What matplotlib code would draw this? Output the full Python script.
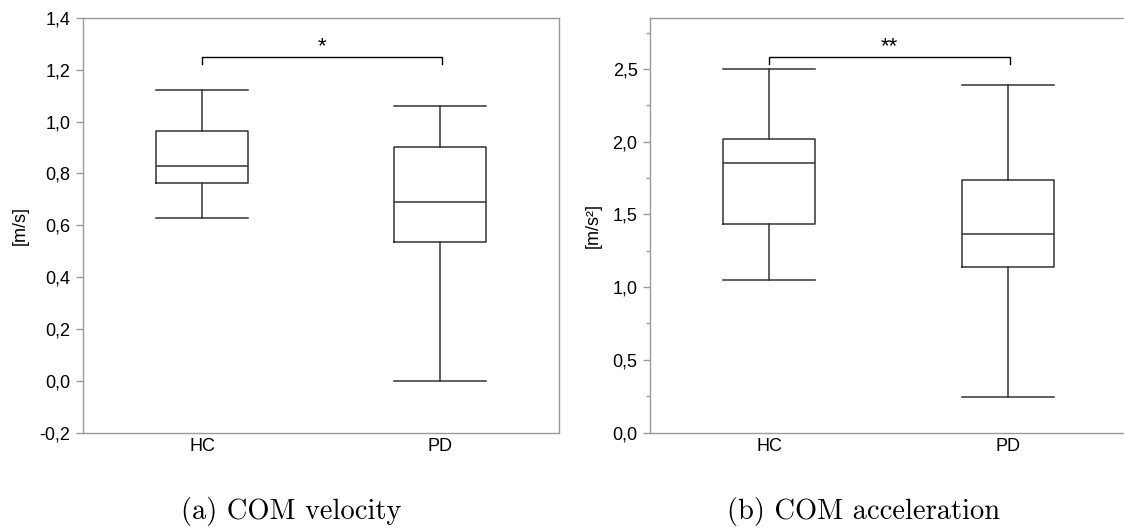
import matplotlib
matplotlib.use("Agg")
import matplotlib.pyplot as plt
from matplotlib.ticker import FuncFormatter, MultipleLocator

groups = ["HC", "PD"]

# COM velocity [m/s]: whislo, q1, med, q3, whishi
vel_whislo = [0.628, 0.0]
vel_q1 = [0.765, 0.534]
vel_med = [0.827, 0.690]
vel_q3 = [0.964, 0.903]
vel_whishi = [1.122, 1.060]

# COM acceleration [m/s^2]
acc_whislo = [1.051, 0.246]
acc_q1 = [1.432, 1.138]
acc_med = [1.855, 1.368]
acc_q3 = [2.016, 1.733]
acc_whishi = [2.500, 2.392]

vel_bracket = 1.25
acc_bracket = 2.583
vel_sig = "*"
acc_sig = "**"

plt.rcParams["font.family"] = ["Liberation Sans", "DejaVu Sans"]

spine_col = "#9a9a9a"
line_col = "#333333"


def comma(v, pos):
    return f"{v:.1f}".replace(".", ",")


def panel(ax, lo, q1, med, q3, hi, ylim, major, minor, ylabel, ybr, drop, sig):
    stats = [dict(whislo=a, q1=b, med=c, q3=d, whishi=e, label=g)
             for a, b, c, d, e, g in zip(lo, q1, med, q3, hi, groups)]
    lp = dict(color=line_col, linewidth=1.1)
    ax.bxp(stats, positions=[1, 2], widths=0.385, capwidths=0.385, showfliers=False,
           boxprops=lp, whiskerprops=lp, capprops=lp, medianprops=lp)
    ax.set_xlim(0.5, 2.5)
    ax.set_ylim(*ylim)
    ax.yaxis.set_major_locator(MultipleLocator(major))
    if minor:
        ax.yaxis.set_minor_locator(MultipleLocator(minor))
    ax.yaxis.set_major_formatter(FuncFormatter(comma))
    for s in ax.spines.values():
        s.set_color(spine_col)
        s.set_linewidth(1.0)
    ax.tick_params(axis="y", which="both", colors=spine_col, labelcolor="black",
                   labelsize=13, length=5, width=1.0, pad=4)
    ax.tick_params(axis="y", which="minor", length=3)
    ax.tick_params(axis="x", length=0, labelsize=13, labelcolor="black", pad=4)
    ax.set_ylabel(ylabel, fontsize=13, labelpad=8)
    # significance bracket
    ax.plot([1, 1, 2.01, 2.01], [ybr - drop, ybr, ybr, ybr - drop],
            color="black", linewidth=1.0)
    ax.text(1.505, ybr, sig, ha="center", va="bottom", fontsize=16)


fig = plt.figure(figsize=(11.24, 5.30), dpi=100)
ax1 = fig.add_axes([83 / 1124, 1 - 432.5 / 530, 476 / 1124, 414.5 / 530])
ax2 = fig.add_axes([650 / 1124, 1 - 432.5 / 530, 477 / 1124, 414.5 / 530])

panel(ax1, vel_whislo, vel_q1, vel_med, vel_q3, vel_whishi, (-0.2, 1.4), 0.2, None,
      "[m/s]", vel_bracket, 0.028, vel_sig)
panel(ax2, acc_whislo, acc_q1, acc_med, acc_q3, acc_whishi, (0.0, 2.85), 0.5, 0.25,
      "[m/s²]", acc_bracket, 0.05, acc_sig)

fig.text(291 / 1124, 1 - 511 / 530, "(a) COM velocity", ha="center", va="center",
         fontfamily="cmr10", fontsize=20.5)
fig.text(863 / 1124, 1 - 511 / 530, "(b) COM acceleration", ha="center", va="center",
         fontfamily="cmr10", fontsize=20.5)

fig.savefig("out.png", dpi=100)
